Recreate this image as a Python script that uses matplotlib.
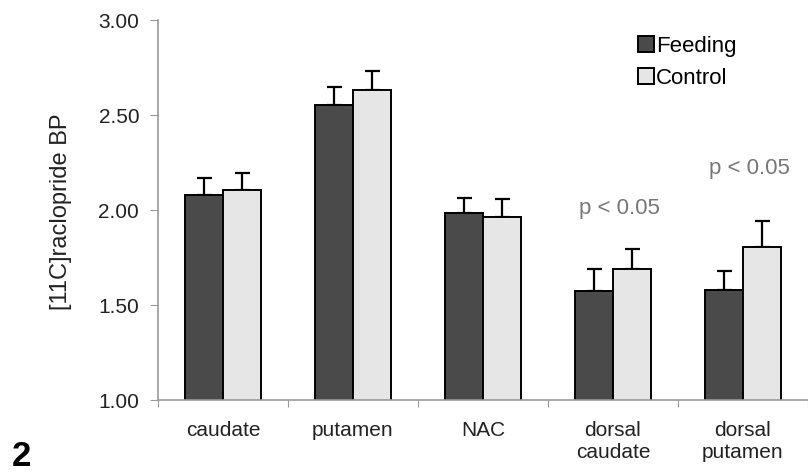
import matplotlib.pyplot as plt
import numpy as np

# valores
regioes = ['caudate', 'putamen', 'NAC', 'dorsal\ncaudate', 'dorsal\nputamen']
feeding = [2.08, 2.555, 1.983, 1.575, 1.58]
feeding_err = [0.09, 0.095, 0.08, 0.115, 0.10]
control = [2.105, 2.63, 1.965, 1.69, 1.805]
control_err = [0.09, 0.10, 0.095, 0.105, 0.135]
p_textos = ['', '', '', 'p < 0.05', 'p < 0.05']
p_alturas = [0, 0, 0, 2.01, 2.22]

plt.rcParams['font.family'] = ['Liberation Sans', 'DejaVu Sans']

fig = plt.figure(figsize=(8.08, 4.73), dpi=100)
ax = fig.add_axes([0.1955, 0.1543, 0.8045, 0.8034])

x = np.arange(len(regioes))
w = 0.29
erro_kw = dict(ecolor='black', elinewidth=1.6, capsize=5.4, capthick=1.6, zorder=1)
ax.bar(x - w / 2, feeding, w, color='#4a4a4a', edgecolor='black', linewidth=1.4,
       yerr=[np.zeros(len(x)), feeding_err], error_kw=erro_kw, label='Feeding', zorder=2)
ax.bar(x + w / 2, control, w, color='#e6e6e6', edgecolor='black', linewidth=1.4,
       yerr=[np.zeros(len(x)), control_err], error_kw=erro_kw, label='Control', zorder=2)

for i, t in enumerate(p_textos):
    if t:
        ax.text(x[i] + 0.05, p_alturas[i], t, ha='center', va='center', fontsize=16, color='#777777')

ax.set_ylim(1.0, 3.0)
ax.set_xlim(-0.5, 4.5)
ax.set_yticks([1.0, 1.5, 2.0, 2.5, 3.0])
ax.set_yticklabels(['1.00', '1.50', '2.00', '2.50', '3.00'], fontsize=15, color='#222222')
ax.set_xticks(np.arange(-0.5, 4.6, 1.0))
ax.set_xticklabels([])
ax.set_xticks(x, minor=True)
ax.set_xticklabels(regioes, minor=True, fontsize=15, color='#222222')
ax.tick_params(axis='x', which='minor', length=0, pad=15)
ax.tick_params(axis='x', which='major', length=5, color='#999999', direction='out')
ax.tick_params(axis='y', length=5.5, color='#999999', pad=8)

for lado in ['top', 'right']:
    ax.spines[lado].set_visible(False)
for lado in ['left', 'bottom']:
    ax.spines[lado].set_color('#999999')
    ax.spines[lado].set_linewidth(1.2)

fig.text(0.075, 0.553, '[11C]raclopride BP', rotation=90, ha='center', va='center',
         fontsize=17, color='#222222')
fig.text(0.014, 0.035, '2', fontsize=25, fontweight='bold', ha='left', va='center')

fig.legend(loc='upper left', bbox_to_anchor=(0.779, 0.943), frameon=False, fontsize=16,
           handlelength=0.7, handleheight=0.7, handletextpad=0.1, labelspacing=0.5,
           borderaxespad=0)

fig.savefig('out.png', dpi=100)
